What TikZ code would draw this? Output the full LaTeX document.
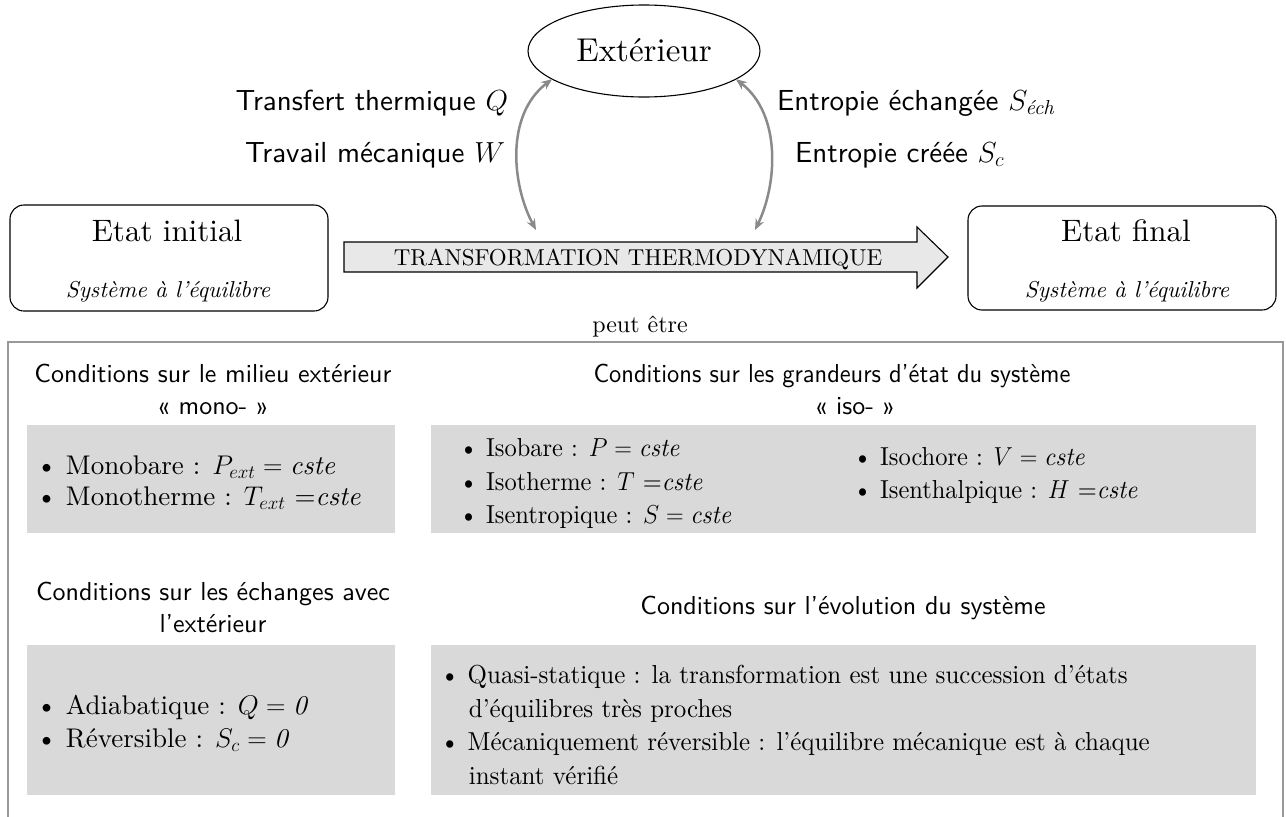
\RequirePackage{fix-cm}
\documentclass[tikz,border=0pt]{standalone}
\usepackage{amsmath}
\usepackage{fontspec}
\setmainfont{lmroman10-regular}[Extension=.otf, ItalicFont=lmroman10-italic, BoldFont=lmroman10-bold]
\setsansfont{lmsans10-regular}[Extension=.otf, ItalicFont=lmsans10-oblique, BoldFont=lmsans10-bold]
\usetikzlibrary{shapes.geometric,arrows.meta}
\definecolor{boxgray}{HTML}{D9D9D9}
\definecolor{arrowfill}{HTML}{E8E8E8}
\definecolor{linkgray}{HTML}{8A8A8A}
\definecolor{framegray}{HTML}{999999}
\newcommand\fsz[2]{\fontsize{#1}{#2}\selectfont}
\newcommand\condx[1]{\scalebox{0.94}[1]{#1}}
\newcommand\condy[1]{\scalebox{0.96}[1]{#1}}
\begin{document}
\begin{tikzpicture}[x=1pt,y=-1pt,
  every node/.style={inner sep=0pt, outer sep=0pt},
  statebox/.style={draw, line width=1.1pt, rounded corners=14pt},
  graybox/.style={fill=boxgray, draw=none},
  link/.style={draw=linkgray, line width=2.5pt, {Stealth[length=11pt,width=9pt]}-{Stealth[length=11pt,width=9pt]}},
  title/.style={font=\fsz{31}{36}, anchor=mid},
  subt/.style={font=\fsz{23}{27}\itshape, anchor=mid},
  sanslab/.style={font=\fsz{29}{34}\sffamily},
  heading/.style={font=\fsz{26}{32}\sffamily, anchor=mid},
  item/.style={anchor=mid west, align=left},
]
\useasboundingbox (0,0) rectangle (1286,817);

% exterior
\node[draw, ellipse, line width=1.1pt, minimum width=232pt, minimum height=92pt] (ext) at (644,51) {};
\node[title, font=\fsz{33}{38}] (extt) at (644,59) {Extérieur};

% labels
\node[sanslab, anchor=mid east] (lq) at (508,108) {Transfert thermique $Q$};
\node[sanslab, anchor=mid east] (lw) at (505,160) {Travail mécanique $W$};
\node[sanslab, anchor=mid west] (lse) at (777,108) {Entropie échangée $S_{\text{\rmfamily\itshape éch}}$};
\node[sanslab, anchor=mid west] (lsc) at (795,160) {Entropie créée $S_c$};

% states
\node[statebox, minimum width=318pt, minimum height=106pt] (init) at (169,258) {};
\node[title] (initt) at (167,239) {Etat initial};
\node[subt] (inits) at (168,295) {Système à l’équilibre};
\node[statebox, minimum width=308pt, minimum height=104pt] (fin) at (1122,258) {};
\node[title] (fint) at (1126,239) {Etat final};
\node[subt] (fins) at (1127,295) {Système à l’équilibre};

% big arrow
\draw[fill=arrowfill, line width=1.1pt] (344,242) -- (917,242) -- (917,227) -- (948,257) -- (917,288) -- (917,272) -- (344,272) -- cycle;
\node[font=\fsz{23}{27}, anchor=mid] (trans) at (638,263) {TRANSFORMATION THERMODYNAMIQUE};
\coordinate (lbot) at (536,230);
\coordinate (rbot) at (755,230);

% curved links
\draw[link] (ext.197) .. controls (505,115) and (512,185) .. (lbot);
\draw[link] (ext.343) .. controls (782,115) and (777,185) .. (rbot);

\node[font=\fsz{24}{28}, anchor=mid] (peut) at (640,330) {peut être};

% frame
\draw[framegray, line width=1.3pt] (8,830) -- (8,342) -- (1283,342) -- (1283,830);

% gray boxes
\path[graybox] (27,425) rectangle (395,533);
\path[graybox] (431,425) rectangle (1256,533);
\path[graybox] (27,645) rectangle (395,795);
\path[graybox] (431,645) rectangle (1256,795);

% headings
\node[heading] (monoh) at (213,380) {Conditions sur le milieu extérieur};
\node[heading] (monoh2) at (213,412) {« mono- »};
\node[heading] (isoh) at (832,380) {\condx{Conditions sur les grandeurs d'état du système}};
\node[heading] (isoh2) at (855,412) {« iso- »};
\node[heading] (echh) at (213,598) {Conditions sur les échanges avec};
\node[heading] (echh2) at (213,630) {l’extérieur};
\node[heading] (evoh) at (843,612) {Conditions sur l’évolution du système};

% mono items
\node[item, font=\fsz{27}{31}] (m1) at (36,472) {\textbullet\ Monobare : $P_{ext} = \mathit{cste}$};
\node[item, font=\fsz{27}{31}] (m2) at (36,503) {\textbullet\ Monotherme : $T_{ext}$ =\textit{cste}};

% iso items
\node[item, font=\fsz{26}{31}] (i1) at (459,454) {\condx{\textbullet\ Isobare : $P = \mathit{cste}$}};
\node[item, font=\fsz{26}{31}] (i2) at (459,488) {\condx{\textbullet\ Isotherme : $T$ =\textit{cste}}};
\node[item, font=\fsz{26}{31}] (i3) at (459,521) {\condx{\textbullet\ Isentropique : $S = \mathit{cste}$}};
\node[item, font=\fsz{26}{31}] (i4) at (853,463) {\condx{\textbullet\ Isochore : $V = \mathit{cste}$}};
\node[item, font=\fsz{26}{31}] (i5) at (853,496) {\condx{\textbullet\ Isenthalpique : $H$ =\textit{cste}}};

% echanges items
\node[item, font=\fsz{27}{31}] (e1) at (36,712) {\textbullet\ Adiabatique : $Q = \mathit{0}$};
\node[item, font=\fsz{27}{31}] (e2) at (36,745) {\textbullet\ Réversible : $S_c = \mathit{0}$};

% evolution items
\node[item, font=\fsz{26}{34}] (v1) at (440,715) {\condy{\textbullet\ Quasi-statique : la transformation est une succession d’états}\\\phantom{\textbullet\ }\condy{d’équilibres très proches}};
\node[item, font=\fsz{26}{34}] (v2) at (440,782) {\condy{\textbullet\ Mécaniquement réversible : l’équilibre mécanique est à chaque}\\\phantom{\textbullet\ }\condy{instant vérifié}};
\end{tikzpicture}
\end{document}
